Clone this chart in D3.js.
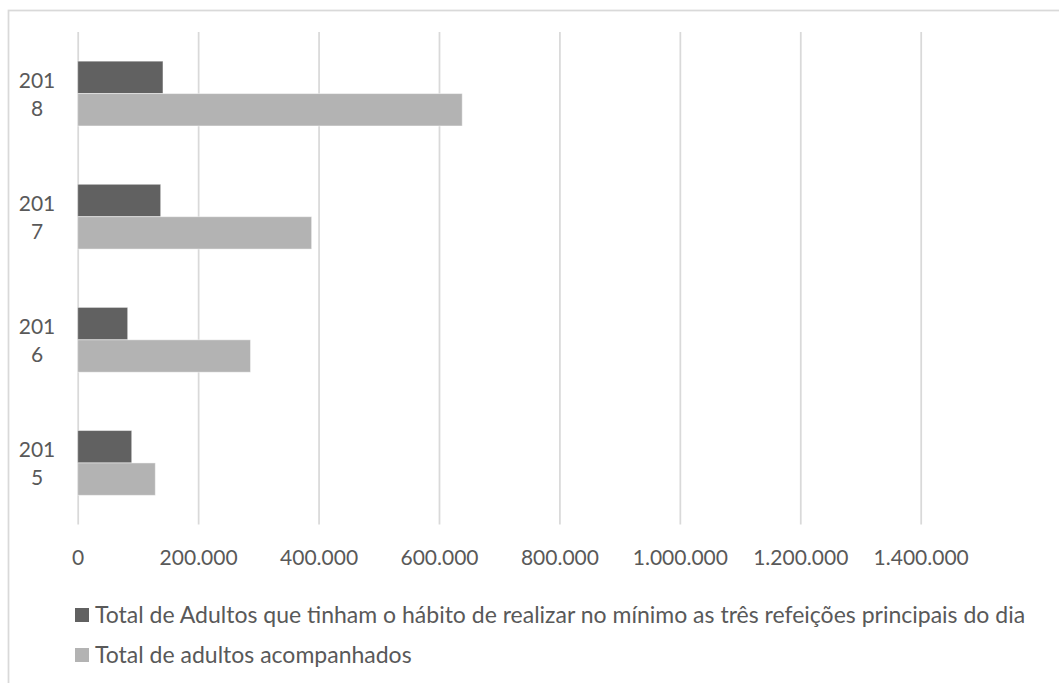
<!DOCTYPE html>
<html>
<head>
<meta charset="utf-8">
<script src="https://cdn.jsdelivr.net/npm/d3@7"></script>
<style>
  html, body { margin: 0; padding: 0; background: #ffffff; }
  svg { display: block; }
  text { font-family: Lato, "Open Sans", sans-serif; fill: #595959; }
</style>
</head>
<body>
<svg id="chart" width="1059" height="683"></svg>
<script>
// Data
const categories = ["2018", "2017", "2016", "2015"];
const categoryLines = [["201", "8"], ["201", "7"], ["201", "6"], ["201", "5"]];
const seriesNames = [
  "Total de Adultos que tinham o hábito de realizar no mínimo as três refeições principais do dia",
  "Total de adultos acompanhados"
];
const refeicoes = [141600, 137800, 83000, 89700];
const acompanhados = [638600, 388500, 287000, 128900];
const tickValues = [0, 200000, 400000, 600000, 800000, 1000000, 1200000, 1400000];
const tickLabels = ["0", "200.000", "400.000", "600.000", "800.000", "1.000.000", "1.200.000", "1.400.000"];
const colors = ["#616161", "#b3b3b3"];

const svg = d3.select("#chart");

// outer chart border
svg.append("rect")
  .attr("x", 8.5).attr("y", 10.5)
  .attr("width", 1060).attr("height", 700)
  .attr("fill", "none").attr("stroke", "#d9d9d9").attr("stroke-width", 1.75);

const plot = { left: 77.7, right: 920.7, top: 32, bottom: 524.5 };

const x = d3.scaleLinear().domain([0, 1400000]).range([plot.left, plot.right]);
const y = d3.scaleBand().domain(categories).range([plot.top, plot.bottom]).paddingInner(0).paddingOuter(0);
const groupFrac = 1 / 1.9; // Excel gap width 90%
const y1 = d3.scaleBand().domain([0, 1])
  .range([0, y.bandwidth() * groupFrac]);

// gridlines via axis
const grid = svg.append("g")
  .attr("transform", `translate(0,${plot.bottom})`)
  .call(d3.axisBottom(x).tickValues(tickValues).tickSize(-(plot.bottom - plot.top)).tickFormat(""));
grid.select(".domain").remove();
grid.selectAll(".tick line").attr("stroke", "#d9d9d9").attr("stroke-width", 1.75);

// tick labels
const xAxis = svg.append("g")
  .attr("transform", `translate(0,${plot.bottom})`)
  .call(d3.axisBottom(x).tickValues(tickValues).tickSize(0).tickPadding(0)
        .tickFormat((d, i) => tickLabels[i]));
xAxis.select(".domain").remove();
xAxis.selectAll(".tick text")
  .attr("y", 0).attr("dy", 0)
  .attr("transform", "translate(0,40)")
  .style("font-size", "21px")
  .attr("fill", "#595959");

// bars
const series = [refeicoes, acompanhados];
const off = (y.bandwidth() - y.bandwidth() * groupFrac) / 2;
series.forEach((vals, si) => {
  svg.append("g").selectAll("rect")
    .data(categories.map((c, i) => ({ c, v: vals[i] })))
    .join("rect")
    .attr("x", x(0))
    .attr("y", d => y(d.c) + off + y1(si))
    .attr("width", d => x(d.v) - x(0))
    .attr("height", y1.bandwidth())
    .attr("fill", colors[si])
    .attr("stroke", "#ffffff").attr("stroke-opacity", 0.45).attr("stroke-width", 1);
});

// category labels (wrapped)
const catG = svg.append("g");
categories.forEach((c, i) => {
  const cy = y(c) + y.bandwidth() / 2;
  const t = catG.append("text")
    .attr("text-anchor", "middle")
    .style("font-size", "21px");
  categoryLines[i].forEach((ln, k) => {
    t.append("tspan").attr("x", 37).attr("y", cy - 6 + k * 28).text(ln);
  });
});

// legend
const legend = svg.append("g");
const legendY = [615, 655];
seriesNames.forEach((name, i) => {
  legend.append("rect")
    .attr("x", 75).attr("y", legendY[i] - 7)
    .attr("width", 14).attr("height", 14)
    .attr("fill", colors[i]);
  legend.append("text")
    .attr("x", 95).attr("y", legendY[i] + 8)
    .style("font-size", "23px")
    .text(name);
});
</script>
</body>
</html>
